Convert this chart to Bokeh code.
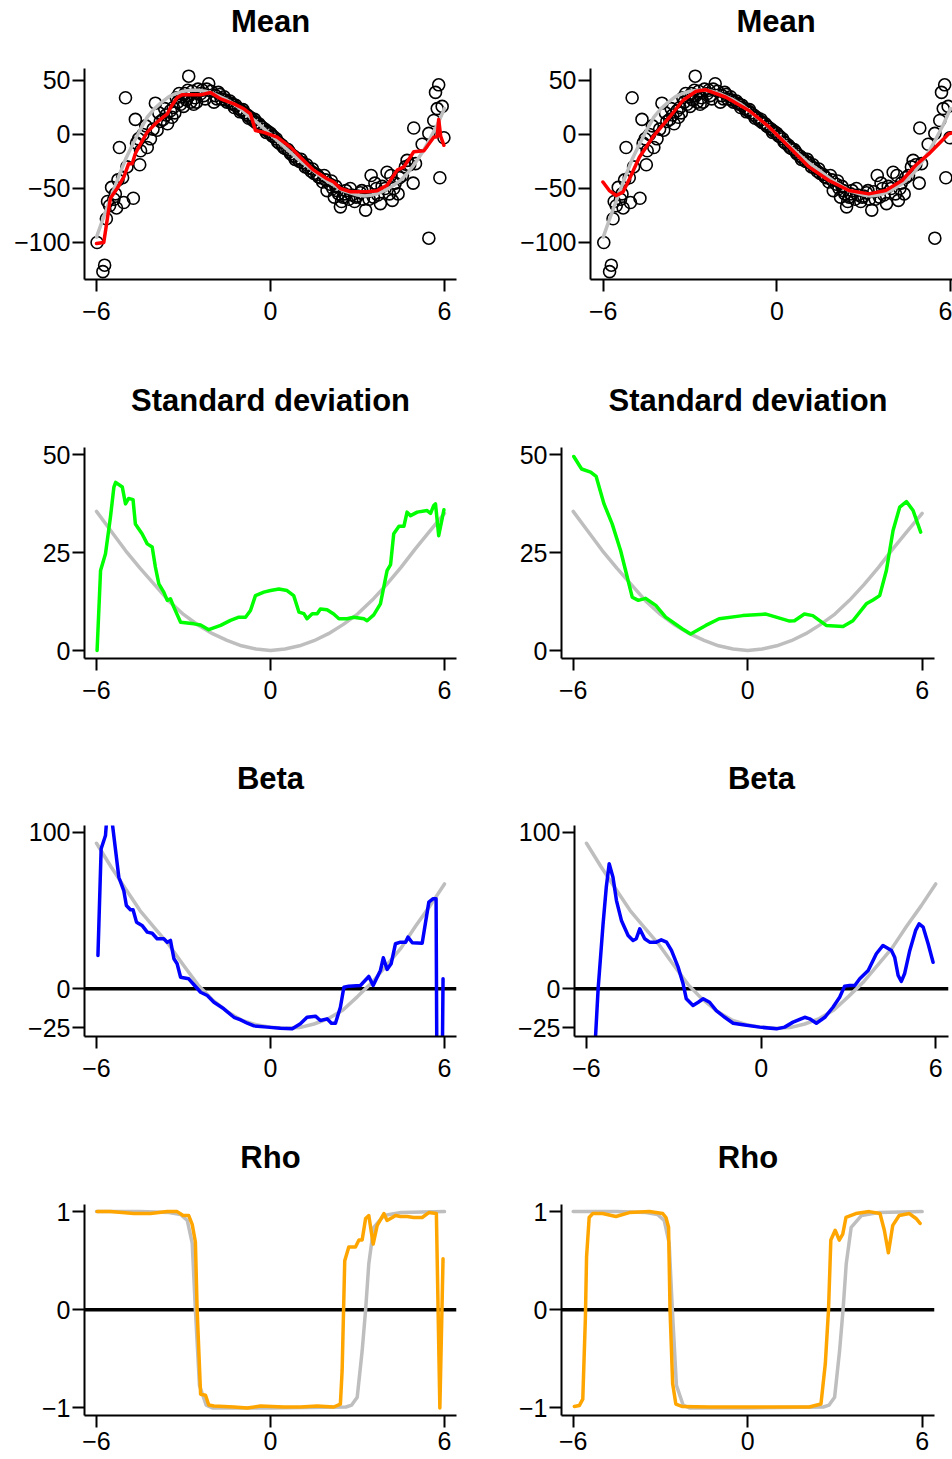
from bokeh.plotting import figure
from bokeh.models import Range1d, FixedTicker, Span, LinearAxis, Title
from bokeh.layouts import row, column
from bokeh.embed import file_html
from bokeh.resources import INLINE

FONT = "Liberation Sans"
GRAY = "#BEBEBE"

# ---------------- data ----------------
XTICKS = [-6, 0, 6]
XLABELS = ["\u22126", "0", "6"]

MEAN_TICKS = [-100, -50, 0, 50]
MEAN_LABELS = ["\u2212100", "\u221250", "0", "50"]
SD_TICKS = [0, 25, 50]
SD_LABELS = ["0", "25", "50"]
BETA_TICKS = [-25, 0, 100]
BETA_LABELS = ["\u221225", "0", "100"]
RHO_TICKS = [-1, 0, 1]
RHO_LABELS = ["\u22121", "0", "1"]

TITLES = ["Mean", "Standard deviation", "Beta", "Rho"]

# observed data (same in both mean panels)
obs_x = [-5.98, -5.78, -5.72, -5.66, -5.62, -5.55, -5.48, -5.40, -5.35, -5.31, -5.26, -5.21, -5.10, -5.06,
         -5.00, -4.95, -4.73, -4.66, -4.62, -4.55, -4.51, -4.48, -4.40, -4.30, -4.25, -4.14, -4.05, -3.97,
         -3.91, -3.85, -3.80, -3.70, -3.65, -3.60, -3.55, -3.45, -3.40, -3.35, -3.30, -3.25, -3.20, -3.15,
         -3.10, -3.05, -3.00, -2.95, -2.90, -2.85, -2.82, -2.80, -2.75, -2.70, -2.65, -2.60, -2.55, -2.50,
         -2.40, -2.35, -2.30, -2.25, -2.20, -2.13, -2.05, -1.95, -1.90, -1.85, -1.80, -1.75, -1.70, -1.60,
         -1.55, -1.50, -1.40, -1.35, -1.30, -1.25, -1.20, -1.10, -1.05, -1.00, -0.95, -0.90, -0.80, -0.75,
         -0.70, -0.60, -0.55, -0.50, -0.40, -0.35, -0.30, -0.20, -0.15, -0.10, 0.00, 0.05, 0.10, 0.20,
         0.25, 0.30, 0.40, 0.45, 0.50, 0.60, 0.65, 0.70, 0.80, 0.85, 0.90, 1.00, 1.05, 1.10, 1.20, 1.25,
         1.30, 1.40, 1.45, 1.50, 1.60, 1.65, 1.70, 1.80, 1.85, 1.90, 1.95, 2.05, 2.10, 2.15, 2.20, 2.25,
         2.30, 2.35, 2.41, 2.45, 2.50, 2.55, 2.60, 2.70, 2.75, 2.80, 2.90, 2.95, 3.00, 3.10, 3.15, 3.20,
         3.28, 3.35, 3.40, 3.47, 3.55, 3.60, 3.65, 3.70, 3.79, 3.85, 3.95, 4.02, 4.10, 4.15, 4.20, 4.25,
         4.30, 4.40, 4.45, 4.55, 4.65, 4.71, 4.80, 4.92, 4.94, 5.00, 5.23, 5.46, 5.46, 5.63, 5.69, 5.75,
         5.80, 5.84, 5.92, 5.98]
obs_y = [-100, -127, -121, -78, -62, -66, -49, -60, -55, -68, -42, -12, -40, -63,
         34, -30, -59, 14, -8, -4, -28, -15, 0, 8, -12, -4, 5, 29,
         4, 20, 12, 14, 24, 18, 10, 22, 16, 25, 20, 34, 30, 38,
         28, 35, 26, 38, 32, 41, 54, 36, 30, 40, 28, 34, 30, 42,
         38, 41, 36, 33, 42, 47, 40, 30, 36, 33, 39, 37, 33, 35,
         32, 30, 31, 29, 28, 25, 27, 24, 21, 22, 23, 20, 18, 15,
         16, 13, 14, 11, 10, 8, 7, 5, 2, 3, 1, -1, -2, -4,
         -7, -8, -10, -12, -13, -14, -16, -18, -20, -23, -22, -25, -23, -26, -30, -28,
         -31, -34, -32, -36, -37, -39, -40, -44, -38, -42, -52, -46, -43, -50, -58, -48,
         -52, -55, -67, -62, -58, -55, -52, -60, -50, -56, -62, -58, -57, -54, -52, -60,
         -70, -53, -60, -38, -58, -45, -50, -56, -64, -48, -50, -35, -55, -38, -61, -50,
         -45, -55, -40, -38, -30, -24, -28, -45, 6, -27, -9, 1, -96, 13, 39, 24,
         46, -40, 26, -3]

# true curves (grey)
true_x = [-6.0, -5.75, -5.5, -5.25, -5.0, -4.75, -4.5, -4.25, -4.0, -3.75, -3.5, -3.25, -3.0, -2.75,
          -2.5, -2.25, -2.0, -1.75, -1.5, -1.25, -1.0, -0.75, -0.5, -0.25, 0.0, 0.25, 0.5, 0.75, 1.0,
          1.25, 1.5, 1.75, 2.0, 2.25, 2.5, 2.75, 3.0, 3.25, 3.5, 3.75, 4.0, 4.25, 4.5, 4.75, 5.0, 5.25,
          5.5, 5.75, 6.0]
mean_true = [-95, -76, -58, -40, -23, -9, 4, 16, 24, 30, 35, 38, 40, 41,
             41, 40, 38, 35, 32, 28, 23, 17, 12, 6, 0, -6, -12, -18, -24,
             -29, -34, -39, -44, -48, -52, -54, -56, -57, -56, -54, -51, -47, -42, -35, -26, -16,
             -4, 9, 24]

sd_true_x = [-6.0, -5.5, -5.0, -4.5, -4.0, -3.5, -3.0, -2.5, -2.0, -1.5, -1.0, -0.5, 0.0, 0.5, 1.0,
             1.5, 2.0, 2.5, 3.0, 3.5, 4.0, 4.5, 5.0, 5.5, 6.0]
sd_true = [35.5, 30.5, 25.5, 21.0, 16.8, 12.6, 9.2, 6.5, 4.3, 2.6, 1.2, 0.4, 0.0, 0.4, 1.2,
           2.5, 4.3, 6.6, 9.3, 12.8, 16.8, 21.2, 26.0, 30.5, 35.0]

beta_true_x = sd_true_x
beta_true = [93, 78, 64, 50, 39, 28, 15, 2.5, -7, -14.5, -20, -23, -24.5, -25.2, -24.8,
             -22.5, -19, -13.5, -5, 4, 15, 26, 40, 53, 67]

rho_true_x = [-6.0, -4.5, -3.5, -3.1, -2.87, -2.70, -2.59, -2.45, -2.22, -2.0, 0.0, 2.6, 2.8, 2.99,
              3.16, 3.28, 3.39, 3.56, 3.91, 4.5, 6.0]
rho_true = [1.0, 1.0, 0.99, 0.97, 0.91, 0.68, 0.0, -0.77, -0.97, -1.0, -1.0, -0.99, -0.97, -0.89,
            -0.42, 0.0, 0.47, 0.84, 0.96, 0.99, 1.0]

# left column estimates
meanL_x = [-6.0, -5.75, -5.66, -5.52, -5.29, -5.06, -4.89, -4.77, -4.66, -4.48, -4.25, -3.91, -3.56,
           -3.45, -3.22, -3.05, -2.41, -2.07, -1.72, -1.26, -0.92, -0.69, -0.52, -0.23, 0.23, 0.69,
           1.03, 1.49, 1.95, 2.18, 2.41, 2.76, 3.33, 3.68, 4.02, 4.37, 4.60, 4.94, 5.29, 5.63, 5.75,
           5.80, 5.87, 5.98]
meanL_y = [-101, -100, -84, -59, -50, -39.5, -27, -27, -17.6, -8.6, 2.2, 11.5, 19,
           25, 34, 36.7, 36.7, 38.9, 33, 28.4, 23.8, 19, 3.7, 2, -2.5, -11.7,
           -21, -33, -41, -44, -50, -53, -53, -52, -47, -33, -30, -16, -15, -2.5, -2,
           14, -1.8, -10]

sdL_x = [-5.98, -5.86, -5.69, -5.52, -5.40, -5.34, -5.11, -5.00, -4.89, -4.74, -4.66, -4.43, -4.25,
         -4.08, -3.97, -3.85, -3.68, -3.56, -3.45, -3.33, -3.10, -2.64, -2.41, -2.13, -1.72, -1.38,
         -1.09, -0.86, -0.69, -0.52, -0.23, 0.00, 0.29, 0.57, 0.80, 0.98, 1.15, 1.26, 1.44, 1.61,
         1.72, 1.95, 2.18, 2.36, 2.64, 2.87, 3.22, 3.33, 3.56, 3.79, 4.02, 4.14, 4.25, 4.43, 4.60,
         4.71, 4.83, 5.06, 5.40, 5.52, 5.63, 5.69, 5.80, 5.98]
sdL_y = [0, 20.4, 24.7, 34, 41.7, 42.9, 41.7, 37.4, 38.8, 38.5, 32.3, 29.8, 27.2,
         26.4, 21.3, 17, 14.9, 12.8, 13.2, 11, 7.2, 6.8, 6.5, 5.3, 6.4, 7.7,
         8.5, 8.5, 10.2, 14, 14.9, 15.3, 15.7, 15.3, 14, 9.8, 9.4, 8.1, 9.4, 9.4,
         10.6, 10.4, 9.3, 8.1, 8.1, 8.5, 8.1, 7.6, 9.1, 11.9, 20.4, 21.9, 29.8, 31.7, 31.7,
         35.3, 34.4, 35.3, 35.7, 35, 37, 37.4, 29.3, 35.9]

betaL_x = [-5.95, -5.84, -5.69, -5.58, -5.23, -5.06, -4.97, -4.83, -4.74, -4.62, -4.43, -4.25, -4.08,
           -3.91, -3.68, -3.56, -3.45, -3.33, -3.22, -3.10, -2.82, -2.64, -2.41, -2.18, -1.95, -1.61,
           -1.26, -1.03, -0.80, -0.57, -0.11, 0.34, 0.75, 1.03, 1.26, 1.55, 1.72, 1.95, 2.10, 2.24,
           2.41, 2.53, 2.70, 3.10, 3.39, 3.54, 3.79, 3.89, 4.02, 4.16, 4.31, 4.48, 4.66, 4.74, 4.89,
           5.23, 5.46, 5.61, 5.71, 5.80, 5.95]
betaL_y = [21.3, 89.5, 98, 125, 71.3, 62.8, 53.2, 50.5, 50.5, 42.6, 40.5, 36.2, 35.5,
           32, 32, 29.8, 30.9, 19.2, 16, 7.4, 6.4, 2.6, -2.2, -4.3, -8.6, -12.8,
           -18.2, -19.9, -22, -23.7, -24.5, -25.2, -25.6, -22.4, -18.2, -17.5, -20.3, -19.2, -22, -22,
           -11.8, 1, 1.7, 2.1, 7.9, 2.1, 11.7, 19.8, 12.4, 16, 28.8, 29.8, 29.8, 33, 29.4,
           29.1, 55.4, 57.6, 57.5, -300, 6.4]

rhoL_x = [-5.98, -5.52, -4.71, -4.14, -3.56, -3.22, -3.01, -2.82, -2.70, -2.59, -2.53, -2.41, -2.24,
          -2.13, -1.95, -1.26, -0.80, -0.34, 0.46, 1.03, 1.61, 2.18, 2.41, 2.47, 2.56, 2.70, 2.93,
          3.05, 3.16, 3.28, 3.39, 3.54, 3.68, 3.91, 4.02, 4.20, 4.31, 4.48, 4.71, 4.94, 5.23, 5.46,
          5.72, 5.84, 5.95]
rhoL_y = [1.0, 1.0, 0.98, 0.98, 1.0, 1.0, 0.96, 0.96, 0.87, 0.69, 0.0, -0.86, -0.87,
          -0.97, -0.98, -0.99, -1.0, -0.98, -0.99, -0.99, -0.98, -0.99, -0.96, -0.62, 0.5, 0.64, 0.64,
          0.71, 0.71, 0.93, 0.96, 0.67, 0.86, 0.98, 0.91, 0.94, 0.96, 0.95, 0.95, 0.94, 0.94, 0.99,
          0.98, -1.0, 0.52]

# right column estimates
meanR_x = [-6.01, -5.79, -5.55, -5.32, -5.09, -4.75, -4.29, -3.71, -3.25, -2.79, -2.45, -1.76, -0.95,
           -0.26, 0.43, 1.11, 1.80, 2.49, 3.18, 3.76, 4.33, 4.79, 5.25, 5.94, 6.05]
meanR_y = [-44, -51.9, -56.5, -53.4, -41, -21, -2.5, 16, 31.5, 40, 41.4, 34.5, 22,
           6.8, -11.7, -30, -42.6, -51.9, -55, -51.9, -42.6, -28.7, -18, 0.6, 1.5]

sdR_x = [-5.98, -5.71, -5.40, -5.21, -4.94, -4.66, -4.37, -4.14, -3.97, -3.76, -3.51, -3.16, -2.82,
         -2.24, -1.96, -1.44, -0.98, -0.17, 0.63, 0.98, 1.44, 1.61, 1.95, 2.24, 2.70, 3.28, 3.62,
         4.08, 4.31, 4.54, 4.77, 5.00, 5.23, 5.46, 5.69, 5.95]
sdR_y = [49.5, 46.3, 45.5, 44.4, 37.4, 32.3, 25.5, 18.7, 13.6, 12.8, 13.3, 11.5, 8.5,
         5.5, 4.2, 6.4, 8.1, 8.9, 9.3, 8.5, 7.5, 7.6, 9.3, 8.9, 6.4, 6.1, 7.6,
         11.9, 12.9, 14, 20.4, 30.6, 36.6, 38, 35.7, 30.2]

betaR_x = [-5.95, -5.60, -5.43, -5.32, -5.22, -5.09, -4.97, -4.80, -4.57, -4.40, -4.29, -4.17, -4.00,
           -3.83, -3.60, -3.43, -3.25, -3.08, -2.85, -2.68, -2.57, -2.34, -2.16, -1.99, -1.77, -1.54,
           -1.25, -0.96, -0.62, -0.05, 0.53, 0.81, 1.10, 1.50, 1.67, 1.90, 2.19, 2.47, 2.70, 2.87,
           3.04, 3.22, 3.39, 3.68, 3.96, 4.19, 4.48, 4.59, 4.71, 4.82, 4.93, 5.11, 5.31, 5.43, 5.57,
           5.74, 5.91]
betaR_y = [-120, 0, 41.5, 64.9, 79.9, 71.3, 56.4, 43.7, 34.1, 30.9, 32, 38.3, 32,
           29.8, 29.8, 31.3, 29.8, 24.5, 13.8, 3.2, -6.4, -10.7, -8.6, -6.4, -8.6, -13.9,
           -18.2, -22, -23, -24.5, -25.6, -24.5, -21.3, -18.2, -19.2, -22, -18.2, -11.8, -5.4, 1.7,
           2.1, 2.1, 6.4, 11.7, 22.4, 27.7, 24.5, 20.2, 8.5, 4.7, 9.6, 24.5, 37.3, 41.5, 39.4,
           28.8, 17]

rhoR_x = [-5.96, -5.79, -5.67, -5.58, -5.54, -5.45, -5.33, -4.99, -4.53, -4.07, -3.38, -2.92, -2.81,
          -2.72, -2.67, -2.58, -2.47, -2.24, -1.32, -0.17, 0.97, 2.12, 2.52, 2.67, 2.78, 2.86, 3.01,
          3.15, 3.27, 3.38, 3.72, 4.18, 4.55, 4.70, 4.84, 4.99, 5.21, 5.56, 5.79, 5.93]
rhoR_y = [-0.985, -0.975, -0.91, -0.08, 0.54, 0.94, 0.98, 0.98, 0.95, 0.99, 1.0, 0.98, 0.94,
          0.84, 0.0, -0.75, -0.96, -0.985, -0.99, -0.99, -0.99, -0.99, -0.96, -0.55, 0.0, 0.71, 0.81,
          0.71, 0.77, 0.94, 0.98, 1.0, 0.98, 0.81, 0.58, 0.86, 0.96, 0.98, 0.93, 0.88]

# ---------------- layout ----------------
ROW_H = [379, 378, 379, 323]
TOP = 68
FRAME_H = 211
LEFT_W = 476
RIGHT_W = 476
TITLE_GAP = 30   # empty space kept between title and frame

Y_MEAN = (-134.26, 61.11)
Y_SD = (-2.04, 51.79)
Y_BETA = (-30.49, 104.37)
Y_RHO = (-1.0764, 1.0723)


def panel(title, xr, yr, yticks, ylabels, width, height, bl, br, xstand=10, title_left=None):
    bb = height - TOP - FRAME_H
    p = figure(width=width, height=height, x_range=Range1d(*xr), y_range=Range1d(*yr),
               output_backend="svg", toolbar_location=None, title=None,
               min_border_left=bl, min_border_right=br, min_border_top=TOP, min_border_bottom=bb)
    p.outline_line_color = None
    p.grid.visible = False
    p.background_fill_color = "white"
    p.border_fill_color = "white"
    for ax in (p.xaxis[0], p.yaxis[0]):
        ax.axis_line_width = 2
        ax.axis_line_color = "black"
        ax.major_tick_line_width = 2
        ax.major_tick_line_color = "black"
        ax.major_tick_out = 12
        ax.major_tick_in = 0
        ax.minor_tick_line_color = None
        ax.major_label_text_font = FONT
        ax.major_label_text_font_size = "25px"
        ax.major_label_text_color = "black"
    p.xaxis.ticker = FixedTicker(ticks=XTICKS)
    p.xaxis.major_label_overrides = dict(zip(XTICKS, XLABELS))
    p.xaxis.major_label_standoff = xstand
    p.yaxis.ticker = FixedTicker(ticks=yticks)
    p.yaxis.major_label_overrides = dict(zip(yticks, ylabels))
    p.yaxis.major_label_standoff = 2
    # invisible spacer between frame and title (added first -> nearest to the frame)
    spacer = LinearAxis(ticker=FixedTicker(ticks=[0]), axis_line_color=None,
                        major_tick_line_color=None, minor_tick_line_color=None,
                        major_tick_out=TITLE_GAP, major_tick_in=0, minor_tick_out=0,
                        major_label_standoff=0, major_label_text_font_size="1px",
                        major_label_text_alpha=0, major_label_overrides={0: ""})
    p.add_layout(spacer, "above")
    t = Title(text=title, text_font=FONT, text_font_size="31px", text_font_style="bold",
              text_color="black", vertical_align="bottom", standoff=0)
    if title_left is None:
        t.align = "center"
    else:
        t.align = "left"
        t.offset = title_left
    p.add_layout(t, "above")
    return p


def curve(p, xs, ys, color):
    p.line(xs, ys, line_color=color, line_width=3.5, line_join="round", line_cap="round")


def zero(p):
    p.add_layout(Span(location=0, dimension="width", line_color="black", line_width=3.5,
                      level="underlay"))


XL = (-6.414, 6.414)

# row 1: mean
m1 = panel(TITLES[0], XL, Y_MEAN, MEAN_TICKS, MEAN_LABELS, LEFT_W, ROW_H[0], 84, 20)
m2 = panel(TITLES[0], (-6.439, 6.070), Y_MEAN, MEAN_TICKS, MEAN_LABELS, RIGHT_W, ROW_H[0], 114, 0,
           title_left=146)
for p, ex, ey in ((m1, meanL_x, meanL_y), (m2, meanR_x, meanR_y)):
    p.scatter(obs_x, obs_y, marker="circle", size=12, fill_color=None, line_color="black",
              line_width=1.6)
    curve(p, true_x, mean_true, GRAY)
    curve(p, ex, ey, "#FF0000")

# row 2: standard deviation
s1 = panel(TITLES[1], XL, Y_SD, SD_TICKS, SD_LABELS, LEFT_W, ROW_H[1], 84, 20)
s2 = panel(TITLES[1], (-6.402, 6.425), Y_SD, SD_TICKS, SD_LABELS, RIGHT_W, ROW_H[1], 85, 18)
for p, ex, ey in ((s1, sdL_x, sdL_y), (s2, sdR_x, sdR_y)):
    curve(p, sd_true_x, sd_true, GRAY)
    curve(p, ex, ey, "#00FF00")

# row 3: beta
b1 = panel(TITLES[2], XL, Y_BETA, BETA_TICKS, BETA_LABELS, LEFT_W, ROW_H[2], 84, 20)
b2 = panel(TITLES[2], (-6.412, 6.440), Y_BETA, BETA_TICKS, BETA_LABELS, RIGHT_W, ROW_H[2], 98, 4)
for p, ex, ey in ((b1, betaL_x, betaL_y), (b2, betaR_x, betaR_y)):
    zero(p)
    curve(p, beta_true_x, beta_true, GRAY)
    curve(p, ex, ey, "#0000FF")

# row 4: rho
r1 = panel(TITLES[3], XL, Y_RHO, RHO_TICKS, RHO_LABELS, LEFT_W, ROW_H[3], 84, 20, xstand=4)
r2 = panel(TITLES[3], (-6.402, 6.425), Y_RHO, RHO_TICKS, RHO_LABELS, RIGHT_W, ROW_H[3], 85, 18,
           xstand=4)
for p, ex, ey in ((r1, rhoL_x, rhoL_y), (r2, rhoR_x, rhoR_y)):
    zero(p)
    curve(p, rho_true_x, rho_true, GRAY)
    curve(p, ex, ey, "#FFA500")

layout = column(row(m1, m2), row(s1, s2), row(b1, b2), row(r1, r2))

open("out.html", "w").write(file_html(layout, INLINE))
